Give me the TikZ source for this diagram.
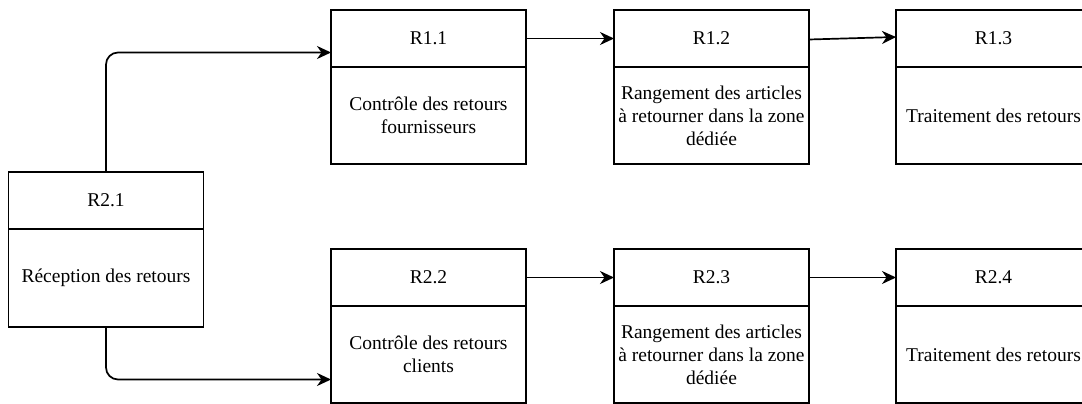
\documentclass[tikz,border=0pt]{standalone}
\usepackage{fontspec}
\setmainfont{Liberation Serif}
\usetikzlibrary{arrows.meta,positioning}

\begin{document}
\begin{tikzpicture}[
  x=1pt, y=-1pt,
  head/.style={draw, line width=1.7pt, minimum width=195pt, minimum height=57pt, inner sep=0pt, outer sep=0pt, font=\fontsize{19.5}{23}\selectfont},
  body/.style={draw, line width=1.7pt, minimum width=195pt, minimum height=97pt, inner sep=0pt, outer sep=0pt, align=center, font=\fontsize{19.5}{23}\selectfont},
  arr/.style={-{Stealth[length=14pt, width=13pt, inset=4.5pt]}, line width=1.7pt}
]
\useasboundingbox (0,0) rectangle (1082,404);
\clip (0,0) rectangle (1082,404);

% reception
\node[head, anchor=north west] (r21) at (8.5,172) {R2.1};
\node[body, below=0pt of r21, minimum height=98pt] (r21b) {Réception des retours};

% retours fournisseurs
\node[head, anchor=north west] (r11) at (331,10) {R1.1};
\node[body, below=0pt of r11] (r11b) {Contrôle des retours\\fournisseurs};
\node[head, right=88pt of r11] (r12) {R1.2};
\node[body, below=0pt of r12] (r12b) {Rangement des articles\\à retourner dans la zone\\dédiée};
\node[head, right=87pt of r12] (r13) {R1.3};
\node[body, below=0pt of r13] (r13b) {Traitement des retours};

% retours clients
\node[head, anchor=north west] (r22) at (331,249) {R2.2};
\node[body, below=0pt of r22] (r22b) {Contrôle des retours\\clients};
\node[head, right=88pt of r22] (r23) {R2.3};
\node[body, below=0pt of r23] (r23b) {Rangement des articles\\à retourner dans la zone\\dédiée};
\node[head, right=87pt of r23] (r24) {R2.4};
\node[body, below=0pt of r24] (r24b) {Traitement des retours};

\draw[arr, rounded corners=12pt] (r21.north) |- ([yshift=-14pt]r11.west);
\draw[arr, rounded corners=12pt] (r21b.south) |- ([yshift=-25pt]r22b.west);
\draw[arr] (r11.east) -- (r12.west);
\draw[arr] ([yshift=-1pt]r12.east) -- ([yshift=1.5pt]r13.west);
\draw[arr] (r22.east) -- (r23.west);
\draw[arr] (r23.east) -- (r24.west);

\end{tikzpicture}
\end{document}
